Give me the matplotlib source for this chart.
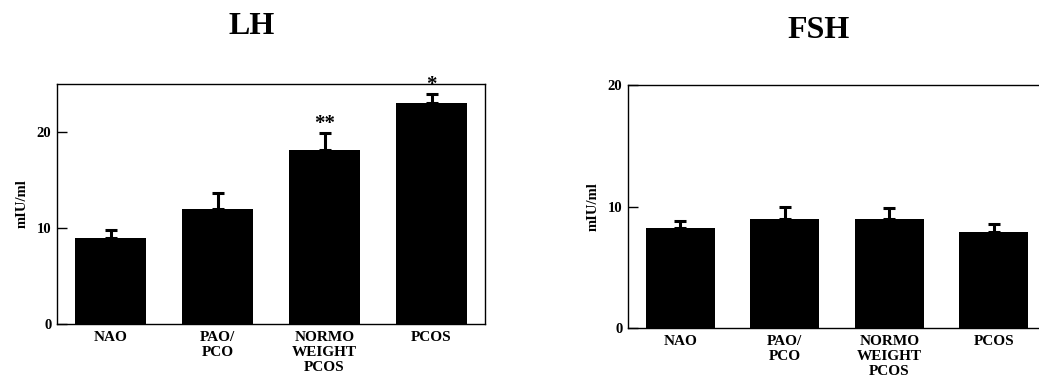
import matplotlib.pyplot as plt

# Dados
grupos = ['NAO', 'PAO/\nPCO', 'NORMO\nWEIGHT\nPCOS', 'PCOS']
lh_media = [9.0, 12.0, 18.1, 23.0]
lh_erro = [0.8, 1.6, 1.8, 1.0]
lh_sig = ['', '', '**', '*']
fsh_media = [8.2, 9.0, 9.0, 7.9]
fsh_erro = [0.6, 0.95, 0.9, 0.7]

plt.rcParams['font.family'] = ['Liberation Serif', 'DejaVu Serif']
plt.rcParams['font.weight'] = 'bold'

W, H = 1039, 379
fig = plt.figure(figsize=(W / 100, H / 100), dpi=100)


def painel(pos, medias, erros, ymax, yticks, titulo, tit_xy, sig=None):
    x0, x1, y0, y1 = pos
    ax = fig.add_axes([x0 / W, 1 - y1 / H, (x1 - x0) / W, (y1 - y0) / H])
    xs = range(len(medias))
    ax.bar(xs, medias, width=0.66, color='black')
    ax.errorbar(xs, medias, yerr=[[0] * len(erros), erros], fmt='none',
                ecolor='black', elinewidth=2.2, capsize=4, capthick=2.2)
    ax.set_xlim(-0.5, len(medias) - 0.5)
    ax.set_ylim(0, ymax)
    ax.set_yticks(yticks)
    ax.set_xticks(list(xs))
    ax.set_xticklabels(grupos, fontsize=11, fontweight='bold', va='top',
                       linespacing=1.2)
    ax.tick_params(axis='x', length=0, pad=5)
    ax.tick_params(axis='y', direction='in', length=7, labelsize=10.5,
                   width=1, pad=4)
    for s in ax.spines.values():
        s.set_linewidth(1)
    ax.set_ylabel('mIU/ml', fontsize=10.5, fontweight='bold', labelpad=6)
    if sig:
        for i, s in enumerate(sig):
            if s:
                ax.text(i, medias[i] + erros[i] + 0.9, s, ha='center',
                        va='center', fontsize=15, fontweight='bold')
    fig.text(tit_xy[0] / W, 1 - tit_xy[1] / H, titulo, ha='center',
             va='center', fontsize=23, fontweight='bold')
    return ax


painel((57, 485, 84, 324), lh_media, lh_erro, 25, [0, 10, 20], 'LH',
       (252, 27), lh_sig)
painel((628, 1046, 85, 328), fsh_media, fsh_erro, 20, [0, 10, 20], 'FSH',
       (819, 30))

fig.savefig('out.png', dpi=100)
